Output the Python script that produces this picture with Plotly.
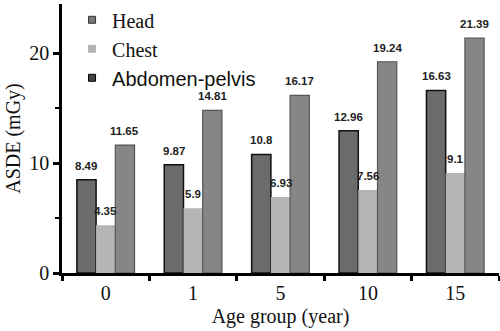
import plotly.graph_objects as go

age_groups = ["0", "1", "5", "10", "15"]
head = [8.49, 9.87, 10.8, 12.96, 16.63]
chest = [4.35, 5.9, 6.93, 7.56, 9.1]
abdomen_pelvis = [11.65, 14.81, 16.17, 19.24, 21.39]

series = [
    ("Head", head, "#6b6b6b", "#111111", 1.5),
    ("Chest", chest, "#b5b5b5", "#b5b5b5", 0),
    ("Abdomen-pelvis", abdomen_pelvis, "#868686", "#555555", 1.2),
]
legend_marks = [
    ("Head", "#777777", "#333333"),
    ("Chest", "#b3b3b3", "#b3b3b3"),
    ('<span style="font-family:Liberation Sans">Abdomen-pelvis</span>', "#444444", "#000000"),
]

bargap = 0.34
bar_w = (1 - bargap) / len(series)

fig = go.Figure()
annotations = []
for k, (name, vals, fill, edge, lw) in enumerate(series):
    fig.add_trace(go.Bar(
        x=age_groups, y=vals, name=name, showlegend=False,
        marker=dict(color=fill, line=dict(color=edge, width=lw)),
    ))
    offset = (k - (len(series) - 1) / 2) * bar_w
    for i, v in enumerate(vals):
        annotations.append(dict(
            x=i + offset, y=v, xref="x", yref="y", text=f"{v:g}",
            showarrow=False, yanchor="bottom", yshift=6,
            font=dict(family="Liberation Sans", size=11.5, color="#222222", weight="bold"),
        ))

for name, fill, edge in legend_marks:
    fig.add_trace(go.Scatter(
        x=[None], y=[None], mode="markers", name=name,
        marker=dict(symbol="square", size=7, color=fill, line=dict(color=edge, width=1)),
    ))

fig.update_layout(
    width=500, height=331,
    margin=dict(l=62, r=1, t=3, b=58),
    paper_bgcolor="white", plot_bgcolor="white",
    barmode="group", bargap=bargap, bargroupgap=0,
    font=dict(family="Liberation Serif", color="#111111"),
    annotations=annotations,
    legend=dict(x=0.023, y=1.01, xanchor="left", yanchor="top",
                font=dict(family="Liberation Serif", size=20, color="#111111"),
                bgcolor="rgba(0,0,0,0)", tracegroupgap=0, itemwidth=30),
    xaxis=dict(
        showline=True, linecolor="#000000", linewidth=2.5,
        ticks="outside", tickson="boundaries", ticklen=5, tickwidth=2.5, tickcolor="#000000",
        tickfont=dict(family="Liberation Serif", size=20),
        title=dict(text="Age group (year)", font=dict(family="Liberation Serif", size=20), standoff=7),
        showgrid=False, zeroline=False,
    ),
    yaxis=dict(
        range=[0, 24.5], showline=True, linecolor="#000000", linewidth=2.5,
        tickvals=[0, 10, 20], ticks="outside", ticklen=6, tickwidth=2.5, tickcolor="#000000",
        minor=dict(tickvals=[5, 15], ticks="outside", ticklen=4, tickwidth=2, tickcolor="#000000"),
        tickfont=dict(family="Liberation Serif", size=20),
        title=dict(text="ASDE (mGy)", font=dict(family="Liberation Serif", size=20), standoff=4),
        showgrid=False, zeroline=False,
    ),
)

fig.write_html("out.html")
